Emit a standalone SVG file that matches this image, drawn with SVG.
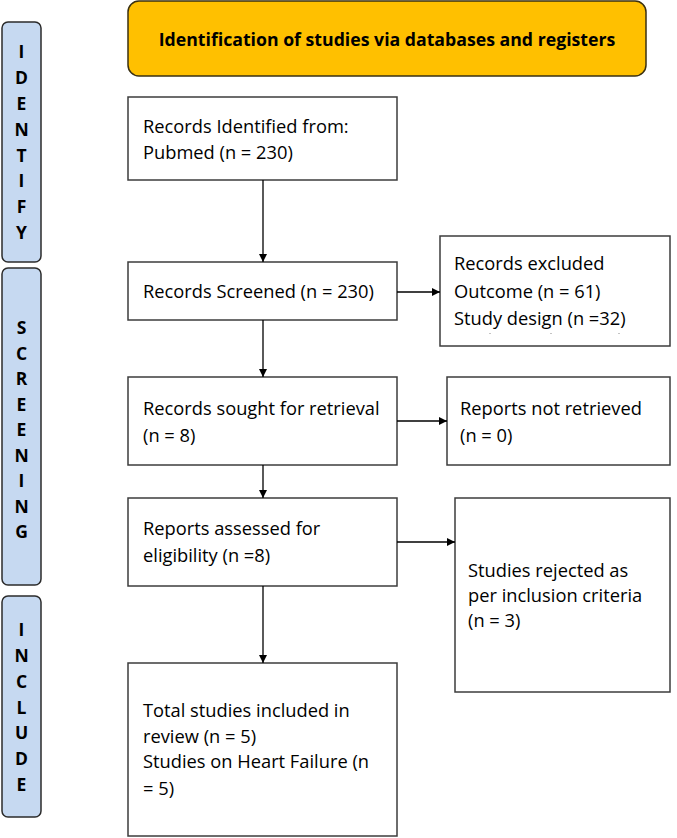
<svg xmlns="http://www.w3.org/2000/svg" width="677" height="838" viewBox="0 0 677 838">
<style>
.bar{fill:#c6d9f1;stroke:#2b2b2b;stroke-width:1.5}
.bl{font-family:"Open Sans","Liberation Sans",sans-serif;font-weight:bold;font-size:17.5px;fill:#000;text-anchor:middle}
.hdr{fill:#ffc000;stroke:#3a3012;stroke-width:1.5}
.ht{font-family:"Open Sans","Liberation Sans",sans-serif;font-weight:bold;font-size:17.7px;fill:#000;text-anchor:middle}
.box{fill:#fff;stroke:#3c3c3c;stroke-width:1.5}
.t{font-family:"Open Sans","Liberation Sans",sans-serif;font-size:18.3px;fill:#000}
.c{stroke:#000;stroke-width:1.3;fill:none;marker-end:url(#ah)}
</style>
<defs>
<marker id="ah" viewBox="0 0 10 10" refX="10" refY="5" markerWidth="8" markerHeight="8" markerUnits="userSpaceOnUse" orient="auto">
<path d="M0,0 L10,5 L0,10 z" fill="#000"/>
</marker>
</defs>
<rect width="677" height="838" fill="#fff"/>
<g id="bar-identify">
<rect class="bar" x="2" y="22" width="39" height="240" rx="6"/>
<text class="bl" x="21.5" y="58">I</text>
<text class="bl" x="21.5" y="84">D</text>
<text class="bl" x="21.5" y="110">E</text>
<text class="bl" x="21.5" y="136">N</text>
<text class="bl" x="21.5" y="162">T</text>
<text class="bl" x="21.5" y="187">I</text>
<text class="bl" x="21.5" y="213">F</text>
<text class="bl" x="21.5" y="239">Y</text>
</g>
<g id="bar-screening">
<rect class="bar" x="2" y="268" width="39" height="317" rx="6"/>
<text class="bl" x="21.5" y="334">S</text>
<text class="bl" x="21.5" y="359.5">C</text>
<text class="bl" x="21.5" y="385">R</text>
<text class="bl" x="21.5" y="410.5">E</text>
<text class="bl" x="21.5" y="436">E</text>
<text class="bl" x="21.5" y="461.5">N</text>
<text class="bl" x="21.5" y="487">I</text>
<text class="bl" x="21.5" y="512.5">N</text>
<text class="bl" x="21.5" y="538">G</text>
</g>
<g id="bar-include">
<rect class="bar" x="2" y="596" width="39" height="221" rx="6"/>
<text class="bl" x="21.5" y="636">I</text>
<text class="bl" x="21.5" y="662">N</text>
<text class="bl" x="21.5" y="688">C</text>
<text class="bl" x="21.5" y="714">L</text>
<text class="bl" x="21.5" y="739">U</text>
<text class="bl" x="21.5" y="765">D</text>
<text class="bl" x="21.5" y="791">E</text>
</g>
<g id="header">
<rect class="hdr" x="128" y="1" width="518" height="75" rx="11"/>
<text class="ht" x="387" y="46">Identification of studies via databases and registers</text>
</g>
<g id="identified">
<rect class="box" x="128" y="97" width="269" height="83"/>
<text class="t" x="143" y="133">Records Identified from:</text>
<text class="t" x="143" y="159">Pubmed (n = 230)</text>
</g>
<g id="screened">
<rect class="box" x="128" y="262" width="269" height="58"/>
<text class="t" x="143" y="298">Records Screened (n = 230)</text>
</g>
<g id="excluded">
<rect class="box" x="440" y="236" width="230" height="110"/>
<text class="t" x="454" y="270">Records excluded</text>
<text class="t" x="454" y="298">Outcome (n = 61)</text>
<text class="t" x="454" y="325">Study design (n =32)</text>
<rect x="489.5" y="333" width="1" height="1" fill="#888"/>
<rect x="550.5" y="333" width="1" height="1" fill="#888"/>
<rect x="618.5" y="333" width="1" height="1" fill="#888"/>
</g>
<g id="sought">
<rect class="box" x="128" y="377" width="269" height="88"/>
<text class="t" x="143" y="415">Records sought for retrieval</text>
<text class="t" x="143" y="442">(n = 8)</text>
</g>
<g id="not-retrieved">
<rect class="box" x="447" y="377" width="223" height="88"/>
<text class="t" x="460" y="415">Reports not retrieved</text>
<text class="t" x="460" y="442">(n = 0)</text>
</g>
<g id="assessed">
<rect class="box" x="128" y="498" width="269" height="88"/>
<text class="t" x="143" y="535">Reports assessed for</text>
<text class="t" x="143" y="562">eligibility (n =8)</text>
</g>
<g id="rejected">
<rect class="box" x="455" y="498" width="215" height="194"/>
<text class="t" x="468" y="577">Studies rejected as</text>
<text class="t" x="468" y="602">per inclusion criteria</text>
<text class="t" x="468" y="627">(n = 3)</text>
</g>
<g id="included">
<rect class="box" x="128" y="663" width="269" height="173"/>
<text class="t" x="143" y="717">Total studies included in</text>
<text class="t" x="143" y="743">review (n = 5)</text>
<text class="t" x="143" y="768">Studies on Heart Failure (n</text>
<text class="t" x="143" y="795">= 5)</text>
</g>
<g id="connectors">
<line class="c" x1="263" y1="180" x2="263" y2="262"/>
<line class="c" x1="397" y1="292" x2="440" y2="292"/>
<line class="c" x1="263" y1="320" x2="263" y2="377"/>
<line class="c" x1="397" y1="421" x2="447" y2="421"/>
<line class="c" x1="263" y1="465" x2="263" y2="498"/>
<line class="c" x1="397" y1="542" x2="455" y2="542"/>
<line class="c" x1="263" y1="586" x2="263" y2="663"/>
</g>
</svg>
